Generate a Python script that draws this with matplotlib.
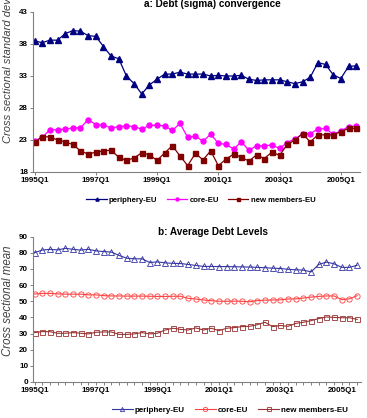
import numpy as np
import matplotlib.pyplot as plt

plt.rcParams['font.family'] = ['Liberation Sans', 'DejaVu Sans']

# quarters 1995Q1 .. 2005Q3
quarters = ['%dQ%d' % (1995 + i // 4, i % 4 + 1) for i in range(43)]
tick_labels = ['1995Q1', '1997Q1', '1999Q1', '2001Q1', '2003Q1', '2005Q1']

# panel a: cross sectional standard deviation
sd_periphery = [38.5, 38.2, 38.6, 38.6, 39.6, 40.1, 40.0, 39.3, 39.2, 37.6,
                36.1, 35.7, 33.0, 31.8, 30.2, 31.6, 32.5, 33.3, 33.3, 33.6,
                33.3, 33.3, 33.3, 33.0, 33.1, 33.0, 33.0, 33.1, 32.5, 32.3,
                32.4, 32.4, 32.4, 32.1, 31.8, 32.1, 32.8, 35.1, 34.8, 33.2,
                32.6, 34.5, 34.6]
sd_core = [22.8, 23.4, 24.6, 24.6, 24.7, 24.9, 24.9, 26.2, 25.4, 25.3,
           24.9, 25.1, 25.2, 25.1, 24.7, 25.3, 25.3, 25.2, 24.5, 25.6,
           23.4, 23.6, 22.8, 23.9, 22.5, 22.3, 21.6, 22.7, 21.4, 22.1,
           22.1, 22.2, 21.7, 22.6, 23.2, 23.9, 24.0, 24.7, 24.8, 23.9,
           24.4, 25.1, 25.2]
sd_new = [22.7, 23.5, 23.5, 23.0, 22.7, 22.3, 21.3, 20.8, 21.1, 21.3,
          21.4, 20.3, 19.8, 20.2, 21.0, 20.7, 19.8, 21.0, 22.1, 20.5,
          19.0, 20.9, 19.9, 21.3, 19.0, 20.0, 20.8, 20.3, 19.7, 20.7,
          20.1, 21.1, 20.6, 22.3, 23.0, 24.0, 22.7, 23.8, 23.8, 23.8,
          24.3, 24.8, 24.8]

# panel b: cross sectional mean
mean_periphery = [80.1, 81.7, 82.2, 81.8, 82.8, 82.2, 81.7, 82.2, 81.2, 80.8,
                  80.5, 78.4, 76.7, 76.3, 76.3, 74.0, 74.4, 73.8, 73.5, 73.4,
                  72.8, 72.2, 71.6, 71.6, 71.5, 71.5, 71.4, 71.3, 71.2, 71.0,
                  70.8, 70.5, 70.3, 69.8, 69.5, 69.3, 68.2, 72.8, 74.3, 73.2,
                  71.0, 71.0, 72.3]
mean_core = [54.5, 54.9, 54.9, 54.6, 54.4, 54.4, 54.4, 54.0, 54.0, 53.5,
             53.3, 53.3, 53.2, 53.2, 53.2, 53.1, 53.0, 53.0, 53.1, 53.1,
             51.8, 51.4, 50.8, 50.4, 50.0, 50.0, 50.1, 50.0, 49.7, 50.4,
             50.7, 50.8, 50.9, 51.4, 51.5, 52.0, 52.6, 53.0, 53.3, 53.3,
             51.0, 51.5, 53.5]
mean_new = [30.6, 31.2, 31.2, 30.2, 30.2, 30.6, 30.2, 29.8, 30.8, 31.0,
            31.0, 29.5, 29.5, 29.8, 30.6, 29.8, 30.2, 32.2, 33.3, 32.6,
            32.2, 33.5, 32.2, 33.3, 31.8, 33.3, 33.7, 34.3, 34.5, 35.5,
            37.0, 34.3, 35.0, 34.5, 36.3, 37.0, 38.0, 39.3, 40.3, 40.0,
            39.8, 39.8, 38.8]

names = ['periphery-EU', 'core-EU', 'new members-EU']

x = np.arange(len(quarters))
W, H = 367, 418
fig = plt.figure(figsize=(W / 100, H / 100), dpi=100)

def style_axes(ax):
    for s in ['top', 'right']:
        ax.spines[s].set_visible(False)
    for s in ['left', 'bottom']:
        ax.spines[s].set_color('#808080')
        ax.spines[s].set_linewidth(0.8)
    ax.tick_params(colors='#808080', labelcolor='black', labelsize=5.8,
                   length=2.5, width=0.7, pad=1)
    ax.set_xticks([quarters.index(t) for t in tick_labels])
    ax.set_xticklabels(tick_labels, fontweight='bold')
    ax.set_xlim(-0.2, 42.5)
    for lab in ax.get_yticklabels():
        lab.set_fontweight('bold')

# ---- panel a
ax1 = fig.add_axes([33 / W, 1 - 172 / H, 327 / W, 160 / H])
ax1.plot(x, sd_periphery, color='#000080', marker='^', ms=3.8, lw=0.9, label=names[0])
ax1.plot(x, sd_core, color='#FF00FF', marker='o', ms=3.6, lw=0.9, label=names[1])
ax1.plot(x, sd_new, color='#800000', marker='s', ms=3.6, lw=0.9, label=names[2])
ax1.set_ylim(18, 43)
ax1.set_yticks([18, 23, 28, 33, 38, 43])
style_axes(ax1)
fig.text(212 / W, 1 - 4 / H, 'a: Debt (sigma) convergence', ha='center', va='center',
         fontsize=7.2, fontweight='bold')
# the reference clips this label at the top edge of the image
fig.text(8 / W, 1 - 143 / H, 'Cross sectional standard deviation', rotation=90,
         ha='center', va='bottom', fontsize=8.0, style='italic', color='#404040')
ax1.legend(loc='center', bbox_to_anchor=(201 / W, 1 - 200 / H), bbox_transform=fig.transFigure,
           ncol=3, frameon=False, handlelength=2.6, columnspacing=1.2,
           handletextpad=0.3, markerscale=0.6, prop={'weight': 'bold', 'size': 5.6})

# ---- panel b
ax2 = fig.add_axes([33 / W, 1 - 382 / H, 328 / W, 145.3 / H])
ax2.plot(x, mean_periphery, color='#3535A5', marker='^', ms=3.8, lw=0.8,
         mfc='none', mew=0.6, label=names[0])
ax2.plot(x, mean_core, color='#FF4040', marker='o', ms=3.8, lw=0.8,
         mfc='none', mew=0.6, label=names[1])
ax2.plot(x, mean_new, color='#993333', marker='s', ms=3.6, lw=0.8,
         mfc='none', mew=0.6, label=names[2])
ax2.set_ylim(0, 90)
ax2.set_yticks(range(0, 91, 10))
style_axes(ax2)
ax2.set_xticks(x, minor=True)
ax2.tick_params(which='minor', length=2.5, width=0.7, colors='#808080')
fig.text(213 / W, 1 - 232 / H, 'b: Average Debt Levels', ha='center', va='center',
         fontsize=7.2, fontweight='bold')
fig.text(8 / W, 1 - 301 / H, 'Cross sectional mean', rotation=90,
         ha='center', va='center', fontsize=8.3, style='italic', color='#404040')
ax2.legend(loc='center', bbox_to_anchor=(230 / W, 1 - 410 / H), bbox_transform=fig.transFigure,
           ncol=3, frameon=False, handlelength=2.6, columnspacing=1.2,
           handletextpad=0.3, markerscale=0.8, prop={'weight': 'bold', 'size': 5.8})

fig.savefig('out.png', dpi=100)
